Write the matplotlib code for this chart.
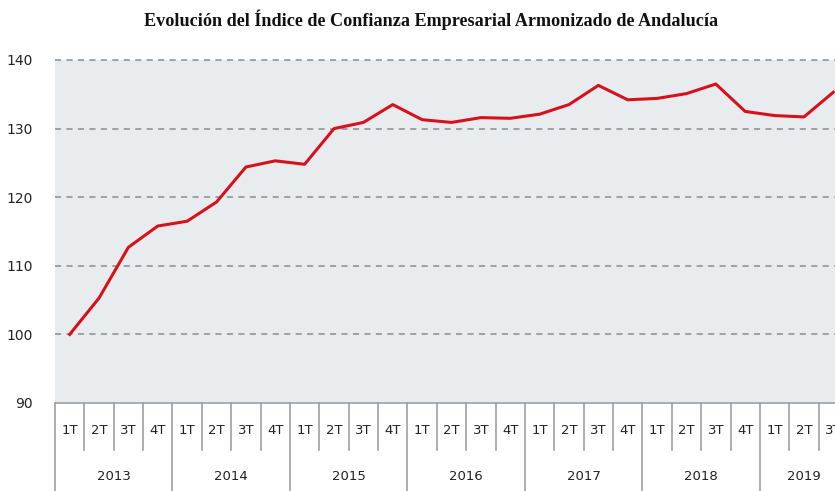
import matplotlib
matplotlib.use("Agg")
import matplotlib.pyplot as plt
from matplotlib.lines import Line2D
import matplotlib.transforms as mtransforms

title = "Evolución del Índice de Confianza Empresarial Armonizado de Andalucía"
years = ["2013", "2014", "2015", "2016", "2017", "2018", "2019"]
quarters_per_year = [4, 4, 4, 4, 4, 4, 3]
quarter_names = ["1T", "2T", "3T", "4T"]
values = [100.0, 105.3, 112.7, 115.8,
          116.5, 119.3, 124.4, 125.3,
          124.8, 130.0, 130.9, 133.5,
          131.3, 130.9, 131.6, 131.5,
          132.1, 133.5, 136.3, 134.2,
          134.4, 135.1, 136.5, 132.5,
          131.9, 131.7, 135.3]
yticks = [90, 100, 110, 120, 130, 140]

W, H = 835, 491
fig = plt.figure(figsize=(W / 100, H / 100), dpi=100)
left, right, top, bottom = 55, 848, 60, 403
ax = fig.add_axes([left / W, (H - bottom) / H, (right - left) / W, (bottom - top) / H])
ax.set_facecolor("#E9ECEF")

n = len(values)
xs = list(range(n))
ax.plot(xs, values, color="#D7111B", lw=2.2, solid_joinstyle="round", zorder=3)

ax.set_xlim(-0.5, n - 0.5)
ax.set_ylim(90, 140)
ax.set_yticks(yticks)
ax.set_yticklabels([str(t) for t in yticks], fontsize=10, color="#222222", family="DejaVu Sans")
ax.tick_params(axis="y", length=0, pad=16)
ax.set_xticks([])
for y in yticks[1:]:
    ax.axhline(y, color="#8C8C8C", lw=1.1, ls=(0, (4, 3.5)), zorder=2, clip_on=False)
for s in ["top", "right", "left"]:
    ax.spines[s].set_visible(False)
ax.spines["bottom"].set_color("#A0A0A0")
ax.spines["bottom"].set_linewidth(1.2)

trans = mtransforms.blended_transform_factory(ax.transData, ax.transAxes)
axh = bottom - top
q_row = -(450 - bottom) / axh
yr_row = -(H - bottom + 5) / axh
q_lab_y = -(430 - bottom) / axh
yr_lab_y = -(476 - bottom) / axh
sep_color = "#A0A0A0"

pos = 0
for yr, nq in zip(years, quarters_per_year):
    ax.add_line(Line2D([pos - 0.5, pos - 0.5], [0, yr_row], transform=trans,
                       color=sep_color, lw=1.2, clip_on=False))
    for q in range(nq):
        x = pos + q
        ax.text(x, q_lab_y, quarter_names[q], transform=trans, ha="center", va="center",
                fontsize=9.5, color="#222222", clip_on=False)
        if q > 0:
            ax.add_line(Line2D([x - 0.5, x - 0.5], [0, q_row], transform=trans,
                               color=sep_color, lw=1.2, clip_on=False))
    ax.text(pos + (nq - 1) / 2, yr_lab_y, yr, transform=trans, ha="center", va="center",
            fontsize=9.5, color="#222222", clip_on=False)
    pos += nq
ax.add_line(Line2D([pos - 0.5, pos - 0.5], [0, yr_row], transform=trans,
                   color=sep_color, lw=1.2, clip_on=False))

fig.text(431 / W, 1 - 20 / H, title, ha="center", va="center", fontsize=13.1,
         fontweight="bold", family="Liberation Serif", color="#111111")

fig.savefig("out.png", dpi=100)
